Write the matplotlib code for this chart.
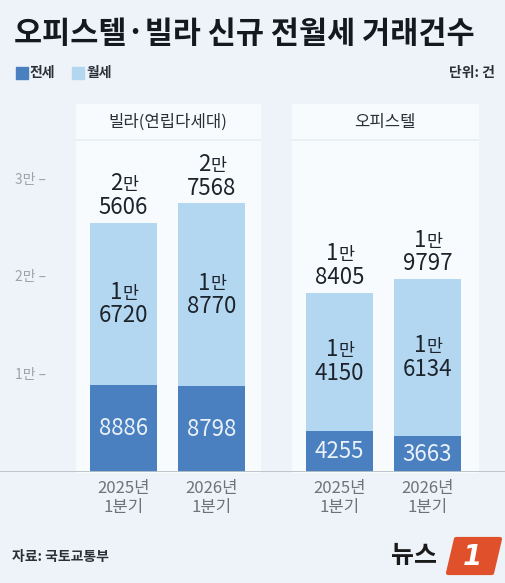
import matplotlib.pyplot as plt
from matplotlib.patches import Rectangle, Polygon

plt.rcParams['font.family'] = ['Noto Sans CJK KR', 'DejaVu Sans']

# data (건)
groups = ['빌라(연립다세대)', '오피스텔']
periods = ['2025년\n1분기', '2026년\n1분기', '2025년\n1분기', '2026년\n1분기']
jeonse = [8886, 8798, 4255, 3663]
wolse = [16720, 18770, 14150, 16134]
totals = [25606, 27568, 18405, 19797]
y_ticks = [10000, 20000, 30000]

DARK = '#4a80c0'
LIGHT = '#b4d7f1'
BG = '#edf3f9'
PANEL = '#f8fbfe'
TXT = '#1d232b'

W, H = 505, 583
fig = plt.figure(figsize=(W / 100, H / 100), dpi=100, facecolor=BG)

# background layer in pixel coordinates
bg = fig.add_axes([0, 0, 1, 1])
bg.set_xlim(0, W)
bg.set_ylim(H, 0)
bg.axis('off')
panels = [(76, 184), (292, 186)]
for (px, pw), name in zip(panels, groups):
    bg.add_patch(Rectangle((px, 104), pw, 368, color=PANEL, zorder=0))
    bg.plot([px, px + pw], [139.5, 139.5], color='#e6edf4', lw=1.2, zorder=1)
    bg.text(px + pw / 2, 122, name, ha='center', va='center', fontsize=12, color='#2a3038')

# chart axes: zero at y=472 px, 97.4 px per 10000
ax = fig.add_axes([0, (H - 472) / H, 1, 372 / H])
ax.set_xlim(0, W)
ax.set_ylim(0, 372 / 97.4 * 10000)
ax.axis('off')
ax.patch.set_alpha(0)

xs = [123.5, 211.5, 339.5, 427.5]
bw = 67
ax.bar(xs, jeonse, width=bw, color=DARK, zorder=2)
ax.bar(xs, wolse, width=bw, bottom=jeonse, color=LIGHT, zorder=2)
ax.axhline(0, color='#b9c0c7', lw=2, zorder=3)

for v in y_ticks:
    ax.text(15, v, f'{v // 10000}만 –', ha='left', va='center', fontsize=10, color='#9aa3ad')


def man_label(x, y, value, color, dy):
    # two-line Korean count label: "1만" over the remainder
    man, rest = divmod(value, 10000)
    ax.annotate(str(man), (x, y), xytext=(-0.8, dy), textcoords='offset points',
                ha='right', va='center', fontsize=16, fontweight='medium', color=color, zorder=4)
    ax.annotate('만', (x, y), xytext=(-0.6, dy - 1), textcoords='offset points',
                ha='left', va='center', fontsize=12.5, fontweight='medium', color=color, zorder=4)
    ax.annotate(f'{rest:04d}', (x, y), xytext=(0, dy - 17), textcoords='offset points',
                ha='center', va='center', fontsize=16, fontweight='medium', color=color, zorder=4)


for x, j, w, t in zip(xs, jeonse, wolse, totals):
    ax.text(x, j / 2, str(j), ha='center', va='center', fontsize=16, color='#eaf1f8', zorder=4)
    man_label(x, j + w / 2, w, TXT, 8.5)
    man_label(x, t, t, TXT, 28)

for x, p in zip(xs, periods):
    ax.annotate(p, (x, 0), xytext=(0, -6), textcoords='offset points', ha='center', va='top',
                fontsize=12, color='#6b737c', linespacing=1.15)

# header
fig.text(14 / W, 1 - 34 / H, '오피스텔·빌라 신규 전월세 거래건수', ha='left', va='center',
         fontsize=22, fontweight='heavy', color='#15191e')
bg.add_patch(Rectangle((16, 67), 12, 12, color=DARK))
bg.text(30, 73, '전세', ha='left', va='center', fontsize=10, fontweight='bold', color='#2a3038')
bg.add_patch(Rectangle((72, 67), 12, 12, color=LIGHT))
bg.text(86, 73, '월세', ha='left', va='center', fontsize=10, fontweight='bold', color='#2a3038')
bg.text(495, 73, '단위: 건', ha='right', va='center', fontsize=10, fontweight='bold', color='#2a3038')

# footer
bg.text(12, 557, '자료: 국토교통부', ha='left', va='center', fontsize=10, fontweight='bold', color='#2a3038')
bg.text(414, 556, '뉴스', ha='center', va='center', fontsize=18, fontweight='bold', color='#1a1a1a')
bg.add_patch(Polygon([[456, 539], [500, 539], [492, 573], [448, 573]], closed=True,
                     color='#e0502a', joinstyle='round', lw=3))
bg.text(472, 557, '1', ha='center', va='center', fontsize=20, fontweight='bold',
        fontstyle='italic', color='white', family='DejaVu Sans')

fig.savefig('out.png', dpi=100, facecolor=BG)
